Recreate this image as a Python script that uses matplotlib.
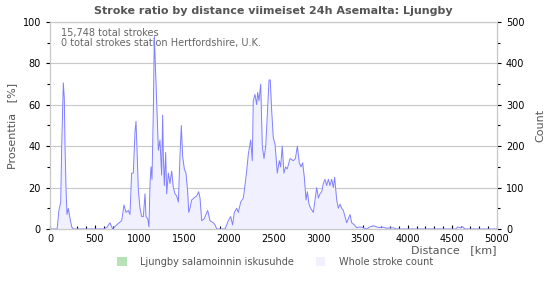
import numpy as np
import matplotlib
matplotlib.use("Agg")
import matplotlib.pyplot as plt
from matplotlib.ticker import MultipleLocator
from matplotlib.patches import Patch

# distance [km] and whole stroke count
dist = [0, 60, 80, 100, 120, 131, 149, 160, 168, 179, 190, 205, 224, 243, 260,
        600, 640, 671, 700, 746, 802, 828, 850, 876, 895, 913, 932, 951, 962,
        977, 988, 1007, 1026, 1044, 1063, 1074, 1093, 1107, 1119, 1130, 1141,
        1156, 1167, 1178, 1193, 1212, 1230, 1249, 1260, 1268, 1279, 1294, 1305,
        1324, 1342, 1361, 1380, 1398, 1417, 1436, 1454, 1469, 1484, 1503, 1521,
        1540, 1552, 1566, 1585, 1611, 1641, 1663, 1678, 1697, 1726, 1764, 1790,
        1827, 1846, 1865, 1958, 1995, 2021, 2043, 2062, 2088, 2107, 2133, 2163,
        2181, 2200, 2218, 2245, 2263, 2274, 2293, 2312, 2323, 2338, 2357, 2375,
        2394, 2413, 2431, 2450, 2464, 2480, 2498, 2517, 2543, 2565, 2580, 2598,
        2617, 2636, 2654, 2685, 2722, 2745, 2767, 2789, 2808, 2826, 2845, 2864,
        2879, 2897, 2916, 2946, 2964, 2983, 3002, 3020, 3039, 3058, 3076, 3095,
        3114, 3132, 3151, 3170, 3184, 3207, 3225, 3244, 3263, 3281, 3300, 3319,
        3337, 3356, 3375, 3404, 3430, 3468, 3505, 3542, 3579, 3617, 3654, 3691,
        3710, 3766, 3841, 3870, 4540, 4560, 4590, 4620, 4640, 5000]
count = [0, 0, 0, 45, 65, 200, 353, 315, 200, 100, 35, 50, 25, 5, 0,
         0, 5, 15, 0, 10, 20, 58, 40, 45, 35, 135, 135, 235, 260,
         170, 95, 50, 30, 30, 85, 30, 25, 5, 110, 150, 120,
         285, 465, 400, 310, 190, 215, 130, 275, 175, 105, 185, 85,
         135, 110, 140, 100, 85, 80, 65, 175, 250, 175, 145, 135,
         90, 40, 50, 70, 75, 80, 90, 75, 20, 25, 45, 20,
         15, 10, 0, 0, 20, 30, 10, 40, 50, 40, 65, 75,
         105, 140, 180, 215, 165, 310, 325, 300, 330, 310, 350, 200,
         170, 200, 275, 360, 360, 285, 220, 205, 135, 165, 150, 200,
         135, 150, 145, 170, 165, 170, 200, 160, 150, 160, 125, 70,
         90, 60, 50, 40, 70, 100, 75, 85, 90, 110, 120, 105,
         120, 105, 120, 100, 125, 70, 50, 60, 50, 45, 30, 15,
         25, 35, 15, 10, 3, 5, 3, 0, 5, 8, 5, 3,
         5, 2, 3, 0, 0, 5, 3, 5, 0, 0]
ratio = [0] * len(dist)

fig = plt.figure(figsize=(5.5, 3), dpi=100)
ax = fig.add_axes([0.0909, 0.2367, 0.8127, 0.69])
ax2 = ax.twinx()

ax.fill_between(dist, ratio, color="#b5e3b5", lw=0)
ax2.fill_between(dist, count, color="#f0f0ff", lw=0)
ax2.plot(dist, count, color="#8080ff", lw=0.7)

ax.set_xlim(0, 5000)
ax.set_ylim(0, 100)
ax2.set_ylim(0, 500)
ax.xaxis.set_major_locator(MultipleLocator(500))
ax.xaxis.set_minor_locator(MultipleLocator(100))
ax.yaxis.set_major_locator(MultipleLocator(20))
ax.yaxis.set_minor_locator(MultipleLocator(10))
ax2.yaxis.set_major_locator(MultipleLocator(100))
ax2.yaxis.set_minor_locator(MultipleLocator(50))
ax.grid(axis="y", color="#c8c8c8", lw=0.8)
ax.set_axisbelow(True)
ax.set_zorder(0)
ax2.set_zorder(1)

for a in (ax, ax2):
    for s in a.spines.values():
        s.set_color("#c8c8c8")
    a.tick_params(labelsize=7, labelcolor="black", length=3, width=0.8)
    a.tick_params(which="minor", length=2, width=0.8)
ax.tick_params(axis="x", which="both", direction="in", color="black")
ax.tick_params(axis="y", which="both", color="black")
ax2.tick_params(axis="y", which="both", color="black")

ax.set_ylabel("Prosenttia   [%]", fontsize=8, color="#555555")
ax2.set_ylabel("Count", fontsize=8, color="#555555", labelpad=8)
ax.set_xlabel("Distance   [km]", fontsize=8, color="#555555", loc="right", labelpad=1)
ax.set_title("Stroke ratio by distance viimeiset 24h Asemalta: Ljungby",
             fontsize=8, fontweight="bold", color="#555555", pad=6)

ax.text(0.025, 0.97, "15,748 total strokes\n0 total strokes station Hertfordshire, U.K.",
        transform=ax.transAxes, fontsize=7, color="#666666", va="top", linespacing=1.0)

handles = [Patch(facecolor="#b5e3b5", edgecolor="none"),
           Patch(facecolor="#f0f0ff", edgecolor="none")]
fig.legend(handles, ["Ljungby salamoinnin iskusuhde", "Whole stroke count"],
           loc="center", bbox_to_anchor=(0.5, 0.127), ncol=2, frameon=False,
           fontsize=7, labelcolor="#555555", handlelength=1.0, handleheight=1.0,
           columnspacing=2.2, handletextpad=1.4)

fig.savefig("out.png", dpi=100)
